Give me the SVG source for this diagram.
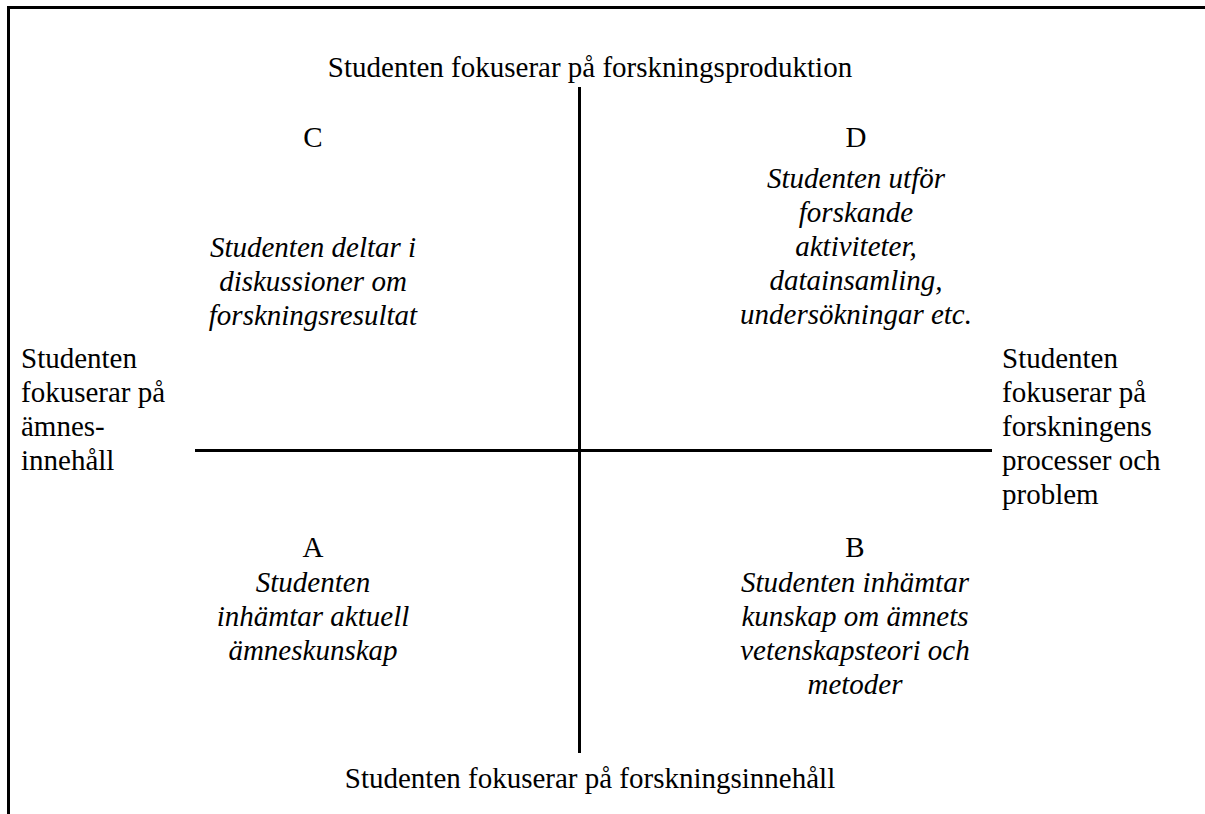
<svg xmlns="http://www.w3.org/2000/svg" width="1205" height="814" viewBox="0 0 1205 814">
<style>
.c{text-anchor:middle}
.i{font-style:italic}
.ln{stroke:#000;stroke-width:3;fill:none}
</style>
<rect width="1205" height="814" fill="#fff"/>
<g id="frame">
<path class="ln" d="M8.5 814 V7.5 H1205"/>
</g>
<g id="connectors">
<line class="ln" x1="579.5" y1="87" x2="579.5" y2="753"/>
<line class="ln" x1="195" y1="450.5" x2="992" y2="450.5"/>
</g>
<g font-family="Liberation Serif, 'Times New Roman', serif" font-size="29" fill="#000">
<g id="top-label"><text class="c" x="590" y="77">Studenten fokuserar på forskningsproduktion</text></g>
<g id="bottom-label"><text class="c" x="590" y="788">Studenten fokuserar på forskningsinnehåll</text></g>
<g id="left-label">
<text x="21" y="368">Studenten</text>
<text x="21" y="402">fokuserar på</text>
<text x="21" y="436">ämnes-</text>
<text x="21" y="470">innehåll</text>
</g>
<g id="right-label">
<text x="1002" y="368">Studenten</text>
<text x="1002" y="402">fokuserar på</text>
<text x="1002" y="436">forskningens</text>
<text x="1002" y="470">processer och</text>
<text x="1002" y="504">problem</text>
</g>
<g id="quadrant-C">
<text class="c" x="313" y="147">C</text>
<text class="c i" x="313" y="257">Studenten deltar i</text>
<text class="c i" x="313" y="291">diskussioner om</text>
<text class="c i" x="313" y="325">forskningsresultat</text>
</g>
<g id="quadrant-D">
<text class="c" x="856" y="147">D</text>
<text class="c i" x="856" y="188">Studenten utför</text>
<text class="c i" x="856" y="222">forskande</text>
<text class="c i" x="856" y="256">aktiviteter,</text>
<text class="c i" x="856" y="290">datainsamling,</text>
<text class="c i" x="856" y="324">undersökningar etc.</text>
</g>
<g id="quadrant-A">
<text class="c" x="313" y="557">A</text>
<text class="c i" x="313" y="592">Studenten</text>
<text class="c i" x="313" y="626">inhämtar aktuell</text>
<text class="c i" x="313" y="660">ämneskunskap</text>
</g>
<g id="quadrant-B">
<text class="c" x="855" y="557">B</text>
<text class="c i" x="855" y="592">Studenten inhämtar</text>
<text class="c i" x="855" y="626">kunskap om ämnets</text>
<text class="c i" x="855" y="660">vetenskapsteori och</text>
<text class="c i" x="855" y="694">metoder</text>
</g>
</g>
</svg>
